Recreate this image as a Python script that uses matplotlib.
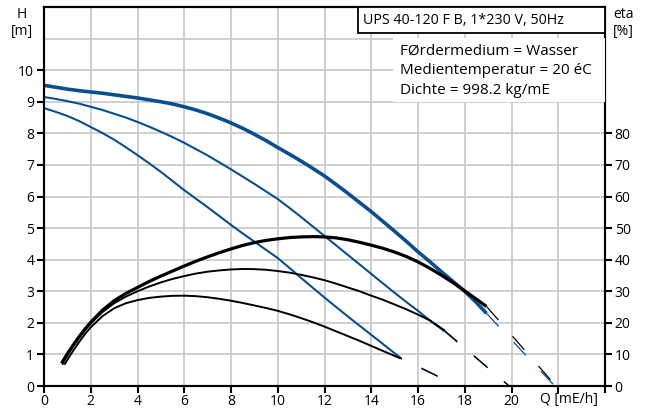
import matplotlib
matplotlib.use("Agg")
import matplotlib.pyplot as plt
from matplotlib.patches import Rectangle

plt.rcParams['font.family'] = ['Open Sans', 'DejaVu Sans']

BLUE = '#0a4f8c'

# ---- data ----
q_h1 = [0.0, 0.5, 1, 1.5, 2, 2.5, 3, 3.5, 4, 4.5, 5, 5.5, 6, 6.5, 7, 7.5, 8, 8.5, 9, 9.5,
        10, 10.5, 11, 11.5, 12, 12.5, 13, 13.5, 14, 14.5, 15, 15.5, 16, 16.5, 17, 17.5, 18, 18.5, 18.93]
h1 = [9.52, 9.46, 9.40, 9.35, 9.31, 9.27, 9.22, 9.17, 9.12, 9.06, 9.00, 8.93, 8.84, 8.74, 8.62, 8.48,
      8.33, 8.16, 7.97, 7.77, 7.55, 7.34, 7.12, 6.89, 6.65, 6.38, 6.10, 5.81, 5.52, 5.21, 4.90, 4.58,
      4.25, 3.94, 3.62, 3.31, 3.00, 2.64, 2.30]

q_h2 = [0.0, 0.5, 1, 1.5, 2, 2.5, 3, 3.5, 4, 4.5, 5, 5.5, 6, 6.5, 7, 7.5, 8, 8.5, 9, 9.5,
        10, 10.5, 11, 11.5, 12, 12.5, 13, 13.5, 14, 14.5, 15, 15.5, 16, 16.5, 17.1]
h2 = [9.15, 9.09, 9.02, 8.94, 8.84, 8.74, 8.62, 8.50, 8.36, 8.21, 8.05, 7.88, 7.70, 7.50, 7.30, 7.08,
      6.86, 6.63, 6.40, 6.16, 5.92, 5.64, 5.35, 5.05, 4.75, 4.45, 4.15, 3.85, 3.55, 3.25, 2.95, 2.66,
      2.38, 2.08, 1.75]

q_h3 = [0.0, 0.5, 1, 1.5, 2, 2.5, 3, 3.5, 4, 4.5, 5, 5.5, 6, 6.5, 7, 7.5, 8, 8.5, 9, 9.5,
        10, 10.5, 11, 11.5, 12, 12.5, 13, 13.5, 14, 14.5, 15.2]
h3 = [8.80, 8.68, 8.55, 8.39, 8.20, 8.01, 7.80, 7.56, 7.31, 7.05, 6.78, 6.49, 6.20, 5.93, 5.66, 5.38,
      5.10, 4.83, 4.57, 4.31, 4.05, 3.74, 3.42, 3.11, 2.80, 2.50, 2.20, 1.91, 1.62, 1.33, 0.92]

q_e1 = [0.75, 1.0, 1.25, 1.5, 1.75, 2.0, 2.5, 3.0, 3.5, 4.0, 4.5, 5, 5.5, 6, 6.5, 7, 7.5, 8, 8.5,
        9, 9.5, 10, 10.5, 11, 11.5, 12, 12.5, 13, 13.5, 14, 14.5, 15, 15.5, 16, 16.5, 17, 17.5,
        18, 18.5, 18.93]
e1 = [7.2, 10.2, 13.0, 15.6, 18.0, 20.2, 24.0, 27.0, 29.3, 31.2, 33.1, 34.8, 36.4, 38.0, 39.5, 40.9,
      42.2, 43.4, 44.5, 45.4, 46.1, 46.6, 47.0, 47.2, 47.3, 47.2, 46.9, 46.3, 45.5, 44.6, 43.6, 42.4,
      41.0, 39.3, 37.3, 35.1, 32.7, 30.1, 27.5, 25.2]

q_e2 = [0.8, 1.0, 1.25, 1.5, 1.75, 2.0, 2.5, 3.0, 3.5, 4.0, 4.5, 5, 5.5, 6, 6.5, 7, 7.5, 8, 8.5,
        9, 9.5, 10, 10.5, 11, 11.5, 12, 12.5, 13, 13.5, 14, 14.5, 15, 15.5, 16, 16.5, 17.1]
e2 = [7.0, 9.7, 12.6, 15.2, 17.6, 19.8, 23.4, 26.2, 28.3, 30.0, 31.5, 32.8, 33.9, 34.8, 35.6, 36.2,
      36.6, 36.9, 37.05, 37.0, 36.8, 36.4, 35.9, 35.2, 34.4, 33.5, 32.4, 31.2, 30.0, 28.6, 27.3, 25.8,
      24.3, 22.6, 20.8, 17.8]

q_e3 = [0.9, 1.0, 1.25, 1.5, 1.75, 2.0, 2.5, 3.0, 3.5, 4.0, 4.5, 5, 5.5, 6, 6.5, 7, 7.5, 8, 8.5,
        9, 9.5, 10, 10.5, 11, 11.5, 12, 12.5, 13, 13.5, 14, 14.5, 15.2]
e3 = [7.0, 8.3, 11.2, 13.9, 16.4, 18.6, 22.1, 24.6, 26.2, 27.2, 27.9, 28.3, 28.55, 28.6, 28.45, 28.1,
      27.6, 27.0, 26.3, 25.5, 24.7, 23.8, 22.7, 21.5, 20.2, 18.8, 17.3, 15.8, 14.3, 12.7, 11.1, 8.9]

# dashed extensions (start, end)
q_h1x = [18.93, 21.85]; h1x = [2.30, 0.0]
q_h2x = [17.1, 19.9];   h2x = [1.75, 0.0]
q_h3x = [15.2, 17.7];   h3x = [0.92, 0.0]
q_e1x = [18.93, 21.9];  e1x = [25.2, 0.0]
q_e2x = [17.1, 19.9];   e2x = [17.8, 0.0]
q_e3x = [15.2, 17.7];   e3x = [8.9, 0.0]

x_ticks = [0, 2, 4, 6, 8, 10, 12, 14, 16, 18, 20, 22, 24]
x_labels = ['0', '2', '4', '6', '8', '10', '12', '14', '16', '18', '20', '', '']
h_ticks = [0, 1, 2, 3, 4, 5, 6, 7, 8, 9, 10]
eta_ticks = [0, 10, 20, 30, 40, 50, 60, 70, 80]

title_text = 'UPS 40-120 F B, 1*230 V, 50Hz'
info_lines = ['FØrdermedium = Wasser', 'Medientemperatur = 20 éC', 'Dichte = 998.2 kg/mE']

# ---- figure ----
W, H = 649, 408
fig = plt.figure(figsize=(W / 100, H / 100), dpi=100)
L, R, B, T = 44, 605, 386, 7
ax = fig.add_axes([L / W, (H - B) / H, (R - L) / W, (B - T) / H])
ax.set_xlim(0, 24)
ax.set_ylim(0, 12)

ax2 = ax.twinx()
ax2.set_ylim(0, 120)

# grid
for x in range(0, 25, 2):
    ax.axvline(x, color='#cccccc', lw=1.3, zorder=0)
for y in range(0, 13):
    ax.axhline(y, color='#cccccc', lw=1.3, zorder=0)

ax2.set_zorder(ax.get_zorder() + 1)
ax2.patch.set_visible(False)

# H curves
ax.plot(q_h1, h1, color=BLUE, lw=2.6, solid_capstyle='butt', zorder=3)
ax.plot(q_h2, h2, color=BLUE, lw=1.5, zorder=3)
ax.plot(q_h3, h3, color=BLUE, lw=1.5, zorder=3)
dash = (14.4, 17.3)
ax.plot(q_h1x, h1x, color=BLUE, lw=0.9, linestyle=(0, dash), zorder=3)
ax.plot(q_h2x, h2x, color=BLUE, lw=0.9, linestyle=(0, dash), zorder=3)
ax.plot(q_h3x, h3x, color=BLUE, lw=0.9, linestyle=(12.0, dash), zorder=3)

# eta curves
ax2.plot(q_e1, e1, color='black', lw=2.3, solid_capstyle='butt', zorder=4)
ax2.plot(q_e2, e2, color='black', lw=1.4, zorder=4)
ax2.plot(q_e3, e3, color='black', lw=1.4, zorder=4)
ax2.plot(q_e1x, e1x, color='black', lw=0.9, linestyle=(0, dash), zorder=4)
ax2.plot(q_e2x, e2x, color='black', lw=0.9, linestyle=(0, dash), zorder=4)
ax2.plot(q_e3x, e3x, color='black', lw=0.9, linestyle=(12.0, dash), zorder=4)

# spines & ticks
for a in (ax, ax2):
    for s in a.spines.values():
        s.set_linewidth(1.5)
        s.set_color('black')

fs = 10
ax.set_xticks(x_ticks)
ax.set_xticklabels(x_labels, fontsize=fs)
ax.set_yticks(h_ticks)
ax.set_yticklabels([str(v) for v in h_ticks], fontsize=fs)
ax.tick_params(axis='y', direction='out', length=5, width=1.5, pad=2)
ax.tick_params(axis='x', direction='out', length=5, width=1.5, pad=0.5)
ax2.set_yticks(eta_ticks)
ax2.set_yticklabels([str(v) for v in eta_ticks], fontsize=fs)
ax2.tick_params(direction='out', length=5, width=1.5, pad=2)

ax.text(-0.04, 1.0, 'H\n[m]', transform=ax.transAxes, ha='center', va='top',
        fontsize=fs, linespacing=1.15)
ax2.text((613 - L) / (R - L), 1.0, 'eta\n[%]', transform=ax.transAxes, ha='left', va='top',
         fontsize=fs, linespacing=1.15)
ax.text(21.2, -0.2, 'Q [mE/h]', ha='left', va='top', fontsize=fs, clip_on=False,
        transform=ax.transData)

# title box
tx0 = (358 - L) / (R - L)
ty0 = (B - 33) / (B - T)
ax2.add_patch(Rectangle((tx0, ty0), 1 - tx0, 1 - ty0, transform=ax.transAxes,
                        facecolor='white', edgecolor='black', lw=1.3, zorder=5))
ax2.text((363 - L) / (R - L), (B - 20) / (B - T), title_text, transform=ax.transAxes,
         ha='left', va='center', fontsize=10.3, zorder=6)

# info box (white background)
ix0 = (393 - L) / (R - L)
iy0 = (B - 102) / (B - T)
iy1 = (B - 38) / (B - T)
ax2.add_patch(Rectangle((ix0, iy0), 1 - ix0, iy1 - iy0, transform=ax.transAxes,
                        facecolor='white', edgecolor='none', zorder=5))
for i, line in enumerate(info_lines):
    ax2.text((400 - L) / (R - L), (B - (51 + 20 * i)) / (B - T), line,
             transform=ax.transAxes, ha='left', va='center', fontsize=11, zorder=6)

fig.savefig('out.png', dpi=100)
